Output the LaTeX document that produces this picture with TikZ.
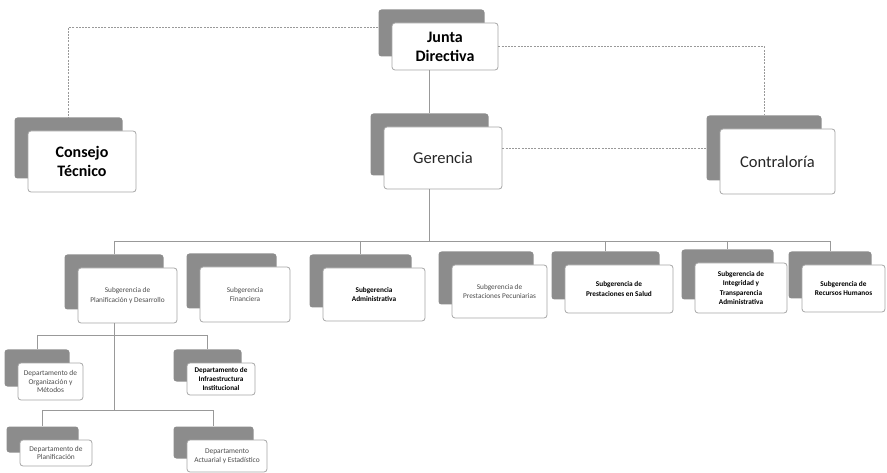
\documentclass[tikz,border=0pt]{standalone}
\usepackage{fontspec}
\setmainfont{Carlito}
\usetikzlibrary{calc,positioning}

% unit = shaded back card + white front card
\newcommand{\orgunit}[6]{%
  \node[backbox,minimum width=#3pt,minimum height=#4pt] (#1b) at ($#2+(-13.5pt,13.5pt)$) {};
  \node[frontbox,minimum width=#3pt,minimum height=#4pt,#5] (#1) at #2 {#6};
}

\begin{document}
\begin{tikzpicture}[x=1pt,y=-1pt,
  backbox/.style={fill=black!45,rounded corners=3pt,inner sep=0pt},
  frontbox/.style={draw=black!35,fill=white,rounded corners=3pt,line width=0.8pt,inner sep=1pt,align=center,font=\fontsize{7.3}{9.5}\selectfont,text=black!70},
  bigtext/.style={font=\fontsize{16.5}{19}\selectfont,text=black!85},
  bigbold/.style={font=\fontsize{16}{19}\selectfont\bfseries,text=black},
  boldtext/.style={font=\fontsize{7.3}{9.5}\selectfont\bfseries,text=black},
  deptext/.style={font=\fontsize{7.4}{8.8}\selectfont},
  deptbold/.style={font=\fontsize{7.2}{8.8}\selectfont\bfseries,text=black},
  link/.style={draw=black!40,line width=0.8pt},
  dashlink/.style={draw=black!40,line width=0.8pt,dash pattern=on 2pt off 1.2pt}]
\useasboundingbox (0,0) rectangle (887,473);

% top levels
\orgunit{jun}{(445,46.5)}{106}{47}{bigbold}{Junta\\Directiva}
\orgunit{con}{(82,161.5)}{108}{61}{bigbold}{Consejo\\Técnico}
\orgunit{ger}{(443,158)}{118}{62}{bigtext}{Gerencia}
\orgunit{ctr}{(777.5,161.5)}{115}{65}{bigtext}{Contraloría}

% subgerencias
\orgunit{plan}{(127.5,295.5)}{99}{55}{}{Subgerencia de\\Planificación y Desarrollo}
\orgunit{fin}{(245,294.5)}{90}{55}{}{Subgerencia\\Financiera}
\orgunit{adm}{(374,294.5)}{102}{53}{boldtext}{Subgerencia\\Administrativa}
\orgunit{pec}{(499.5,291.5)}{95}{53}{}{Subgerencia de\\Prestaciones Pecuniarias}
\orgunit{sal}{(619,289)}{108}{48}{boldtext}{Subgerencia de\\Prestaciones en Salud}
\orgunit{int}{(741,288)}{92}{50}{boldtext}{Subgerencia de\\Integridad y\\Transparencia\\Administrativa}
\orgunit{rrhh}{(843.5,288.5)}{83}{47}{boldtext}{Subgerencia de\\Recursos Humanos}

% departamentos
\orgunit{org}{(50.5,381.5)}{65}{37}{deptext}{Departamento de\\Organización y\\Métodos}
\orgunit{infra}{(221,379)}{68}{32}{deptbold}{Departamento de\\Infraestructura\\Institucional}
\orgunit{dplan}{(56,453)}{72}{26}{deptext}{Departamento de\\Planificación}
\orgunit{act}{(227,456)}{80}{32}{deptext}{Departamento\\Actuarial y Estadístico}

% solid links
\coordinate (bus) at (0,241);
\draw[link] (jun.south -| gerb.north) -- (gerb.north);
\draw[link] (gerb.north |- ger.south) -- (gerb.north |- bus);
\draw[link] (planb.north |- bus) -- (rrhhb.north |- bus);
\foreach \u in {planb,admb,salb,intb,rrhhb}
  \draw[link] (\u.north |- bus) -- (\u.north);

\coordinate (dbus1) at (0,335);
\coordinate (dbus2) at (0,410);
\draw[link] (planb.north |- plan.south) -- (planb.north |- dbus2);
\draw[link] (orgb.north |- dbus1) -- (infrab.north |- dbus1);
\draw[link] (dplanb.north |- dbus2) -- (actb.north |- dbus2);
\foreach \u/\b in {orgb/dbus1,infrab/dbus1,dplanb/dbus2,actb/dbus2}
  \draw[link] (\u.north |- \b) -- (\u.north);

% dashed links
\draw[dashlink] ([yshift=6pt]junb.west) -| (conb.north);
\draw[dashlink] (jun.east) -| (ctrb.north);
\draw[dashlink] (ger.east |- ctrb.west) -- (ctrb.west);
\end{tikzpicture}
\end{document}
